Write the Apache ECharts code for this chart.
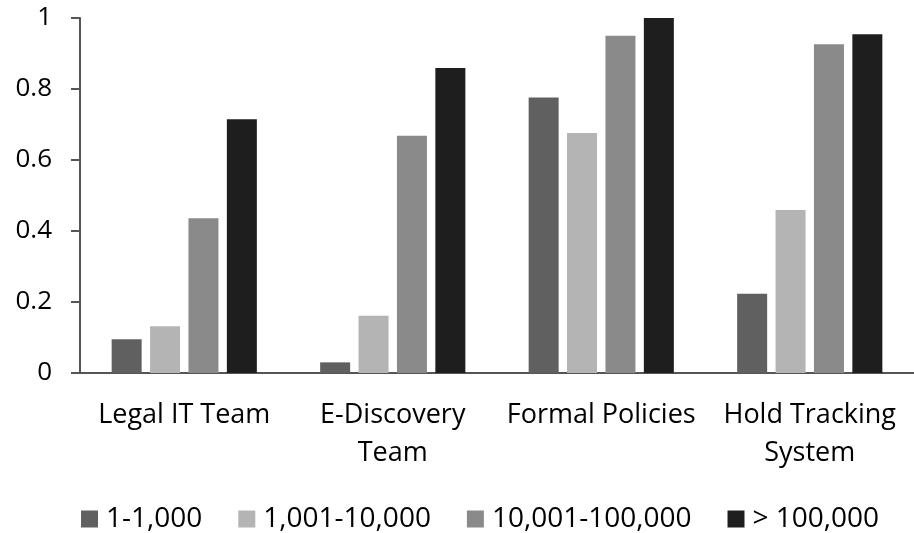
<!DOCTYPE html>
<html>
<head>
<meta charset="utf-8">
<script src="https://cdn.jsdelivr.net/npm/echarts@6/dist/echarts.min.js"></script>
<style>
html,body{margin:0;padding:0;background:#fff;}
#chart{width:914px;height:533px;}
</style>
</head>
<body>
<div id="chart"></div>
<script>
var categories = ['Legal IT Team', 'E-Discovery\nTeam', 'Formal Policies', 'Hold Tracking\nSystem'];
var seriesNames = ['1-1,000', '1,001-10,000', '10,001-100,000', '> 100,000'];
var s1 = [0.095, 0.030, 0.776, 0.223];
var s2 = [0.132, 0.161, 0.676, 0.459];
var s3 = [0.436, 0.668, 0.950, 0.926];
var s4 = [0.715, 0.859, 1.000, 0.954];
var yTicks = [0, 0.2, 0.4, 0.6, 0.8, 1];

var colors = ['#606060', '#b4b4b4', '#8a8a8a', '#1e1e1e'];
var font = '"Open Sans", sans-serif';
var chart = echarts.init(document.getElementById('chart'), null, {renderer: 'canvas'});
var allData = [s1, s2, s3, s4];
chart.setOption({
  animation: false,
  backgroundColor: '#fff',
  grid: {left: 80, right: -8, top: 18, bottom: 160},
  legend: {
    left: 76, top: 500,
    itemWidth: 17, itemHeight: 17, itemGap: 36,
    icon: 'rect',
    textStyle: {fontFamily: font, fontSize: 28, color: '#000', padding: [0, 0, 0, 3]},
    data: seriesNames
  },
  xAxis: {
    type: 'category',
    data: categories,
    axisLine: {lineStyle: {color: '#555', width: 2}},
    axisTick: {show: false},
    axisLabel: {fontFamily: font, fontSize: 27, color: '#000', margin: 23, lineHeight: 38, interval: 0}
  },
  yAxis: {
    type: 'value',
    min: yTicks[0], max: yTicks[yTicks.length - 1], interval: 0.2,
    splitLine: {show: false},
    axisLine: {show: true, lineStyle: {color: '#555', width: 2}},
    axisTick: {show: true, length: 9, lineStyle: {color: '#555', width: 2}},
    axisLabel: {fontFamily: font, fontSize: 26, color: '#000', margin: 28}
  },
  series: seriesNames.map(function (n, i) {
    return {
      name: n, type: 'bar', data: allData[i],
      barWidth: 30, barGap: '28%',
      itemStyle: {color: colors[i]}
    };
  })
});
</script>
</body>
</html>
